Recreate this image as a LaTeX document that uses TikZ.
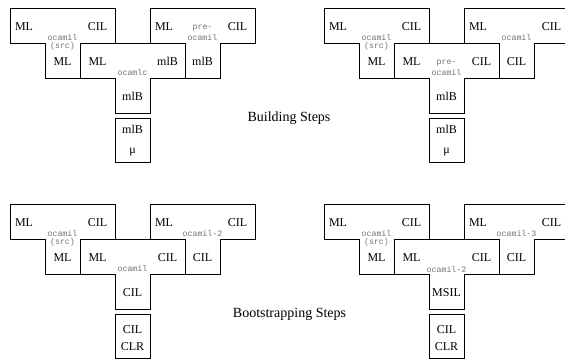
\documentclass[tikz,border=0pt]{standalone}
\usepackage{fontspec}
\setmainfont{Liberation Serif}
\newfontfamily\codefont{Liberation Mono}
\begin{document}
\begin{tikzpicture}[x=1pt,y=-1pt,
  tline/.style={draw=black,line width=0.8pt},
  lab/.style={inner sep=0pt,font=\fontsize{12}{12}\selectfont},
  nm/.style={inner sep=0pt,text=black!55,font=\codefont\fontsize{8.3}{9}\selectfont},
  captext/.style={inner sep=0pt,font=\fontsize{14}{14}\selectfont}]
\clip (0,0) rectangle (565,359);
% #1 name prefix, #2 x, #3 y, #4 left-label x shift, #5 left, #6 right, #7 stem
\newcommand\tombT[7]{%
  \draw[tline] (#2,#3) -- ++(105,0) -- ++(0,35) -- ++(-35,0) -- ++(0,35) -- ++(-35,0) -- ++(0,-35) -- ++(-35,0) -- cycle;
  \node[lab] (#1l) at (#2+17.5+#4,#3+18) {#5};
  \node[lab] (#1r) at (#2+87.5,#3+18) {#6};
  \node[lab] (#1s) at (#2+52.5,#3+53) {#7};
}
% ---------- Building steps, left ----------
\tombT{a1}{10}{8.5}{-3.5}{ML}{CIL}{ML}
\node[nm] (a1n) at (62.5,37.5) {ocamil};
\node[nm] (a1m) at (62.5,46.5) {(src)};
\tombT{a2}{80}{43.5}{0}{ML}{mlB}{mlB}
\node[nm] (a2n) at (132.5,72.5) {ocamlc};
\tombT{a3}{150}{8.5}{-3.5}{ML}{CIL}{mlB}
\node[nm] (a3p) at (202.5,28.5) {pre-};
\node[nm] (a3n) at (202.5,37.5) {ocamil};
\draw[tline] (115,118) rectangle (150,162);
\node[lab] (a4t) at (132.5,129) {mlB};
\node[lab] (a4b) at (132.5,152) {μ};
% ---------- Building steps, right ----------
\tombT{b1}{324}{8.5}{-3.5}{ML}{CIL}{ML}
\node[nm] (b1n) at (376.5,37.5) {ocamil};
\node[nm] (b1m) at (376.5,46.5) {(src)};
\tombT{b2}{394}{43.5}{0}{ML}{CIL}{mlB}
\node[nm] (b2p) at (446.5,63.5) {pre-};
\node[nm] (b2n) at (446.5,72.5) {ocamil};
\tombT{b3}{464}{8.5}{-3.5}{ML}{CIL}{CIL}
\node[nm] (b3n) at (516.5,37.5) {ocamil};
\draw[tline] (429,118) rectangle (464,162);
\node[lab] (b4t) at (446.5,129) {mlB};
\node[lab] (b4b) at (446.5,152) {μ};
\node[captext] (capA) at (289,118) {Building Steps};
% ---------- Bootstrapping steps, left ----------
\tombT{c1}{10}{204.5}{-3.5}{ML}{CIL}{ML}
\node[nm] (c1n) at (62.5,233.5) {ocamil};
\node[nm] (c1m) at (62.5,242.5) {(src)};
\tombT{c2}{80}{239.5}{0}{ML}{CIL}{CIL}
\node[nm] (c2n) at (132.5,269) {ocamil};
\tombT{c3}{150}{204.5}{-3.5}{ML}{CIL}{CIL}
\node[nm] (c3n) at (202.5,233.5) {ocamil-2};
\draw[tline] (115,314) rectangle (150,358);
\node[lab] (c4t) at (132.5,330) {CIL};
\node[lab] (c4b) at (132.5,347) {CLR};
% ---------- Bootstrapping steps, right ----------
\tombT{d1}{324}{204.5}{-3.5}{ML}{CIL}{ML}
\node[nm] (d1n) at (376.5,233.5) {ocamil};
\node[nm] (d1m) at (376.5,242.5) {(src)};
\tombT{d2}{394}{239.5}{0}{ML}{CIL}{MSIL}
\node[nm] (d2n) at (446.5,270) {ocamil-2};
\tombT{d3}{464}{204.5}{-3.5}{ML}{CIL}{CIL}
\node[nm] (d3n) at (516.5,233.5) {ocamil-3};
\draw[tline] (429,314) rectangle (464,358);
\node[lab] (d4t) at (446.5,330) {CIL};
\node[lab] (d4b) at (446.5,347) {CLR};
\node[captext] (capB) at (289.5,314) {Bootstrapping Steps};
\end{tikzpicture}
\end{document}
